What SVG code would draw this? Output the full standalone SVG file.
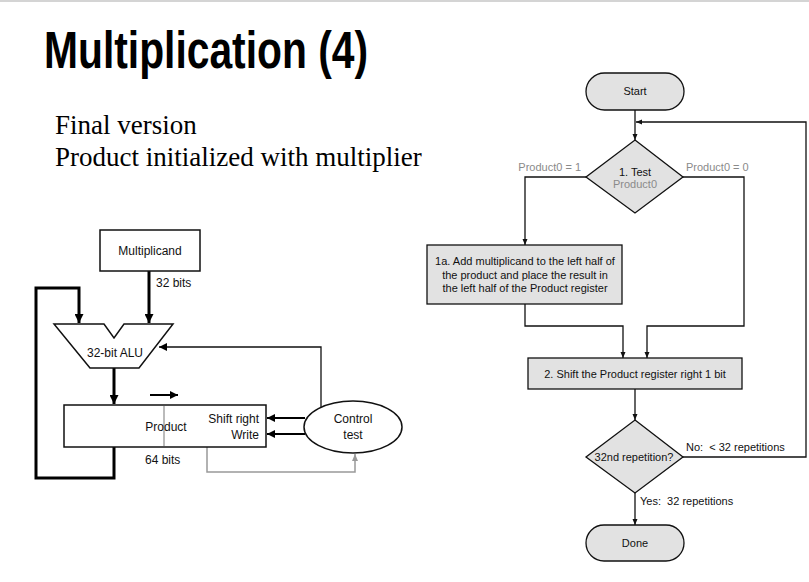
<svg xmlns="http://www.w3.org/2000/svg" width="809" height="582" viewBox="0 0 809 582">
<defs>
<style>
.t{font-family:"Liberation Sans",Arial,sans-serif;fill:#111}
.s12{font-size:12px}
.s11{font-size:11px}
.g{fill:#8a8a8a}
.m{text-anchor:middle}
.e{text-anchor:end}
.ln{fill:none;stroke:#111;stroke-width:1.3}
.thick{fill:none;stroke:#000;stroke-width:3}
.med{fill:none;stroke:#000;stroke-width:2}
.gl{fill:none;stroke:#999;stroke-width:1.5}
.box{fill:#fff;stroke:#111;stroke-width:1.5}
.fbox{fill:#e2e2e2;stroke:#111;stroke-width:1.3}
</style>
<marker id="aBig" markerUnits="userSpaceOnUse" markerWidth="9" markerHeight="9" refX="9" refY="4.5" orient="auto"><path d="M0,0 L9,4.5 L0,9 z" fill="#000"/></marker>
<marker id="aMed" markerUnits="userSpaceOnUse" markerWidth="8" markerHeight="8" refX="8" refY="4" orient="auto"><path d="M0,0 L8,4 L0,8 z" fill="#000"/></marker>
<marker id="aSm" markerUnits="userSpaceOnUse" markerWidth="6" markerHeight="6" refX="6" refY="3" orient="auto"><path d="M0,0.5 L6,3 L0,5.5 z" fill="#111"/></marker>
<marker id="aGray" markerUnits="userSpaceOnUse" markerWidth="7" markerHeight="7" refX="7" refY="3.5" orient="auto"><path d="M0,0.5 L7,3.5 L0,6.5 z" fill="#999"/></marker>
</defs>
<rect x="0" y="0" width="809" height="582" fill="#fff"/>
<line x1="0" y1="1" x2="809" y2="1" stroke="#d4d4d4" stroke-width="2"/>

<g id="title">
<text x="44" y="68" font-family="'Liberation Sans',Arial,sans-serif" font-weight="bold" font-size="51" textLength="324" lengthAdjust="spacingAndGlyphs" fill="#000">Multiplication (4)</text>
<text x="55" y="134" font-family="'Liberation Serif','Times New Roman',serif" font-size="27" fill="#000">Final version</text>
<text x="55" y="166" font-family="'Liberation Serif','Times New Roman',serif" font-size="27" fill="#000">Product initialized with multiplier</text>
</g>

<g id="connectors">
<line class="thick" x1="149" y1="271" x2="149" y2="323" marker-end="url(#aBig)"/>
<polyline class="thick" points="114,447 114,478 36,478 36,288 79,288 79,323" marker-end="url(#aBig)"/>
<line class="thick" x1="114" y1="368" x2="114" y2="404" marker-end="url(#aBig)"/>
<line class="med" x1="150" y1="395" x2="178" y2="395" marker-end="url(#aMed)"/>
<line class="med" x1="305" y1="418" x2="267" y2="418" marker-end="url(#aMed)"/>
<line class="med" x1="305" y1="434" x2="267" y2="434" marker-end="url(#aMed)"/>
<polyline class="ln" points="321,407 321,347 159,347" stroke-width="1.5" marker-end="url(#aMed)"/>
<polyline class="gl" points="207,447 207,472 355,472 355,454" marker-end="url(#aGray)"/>
<line class="ln" x1="635" y1="110" x2="635" y2="140" marker-end="url(#aSm)"/>
<polyline class="ln" points="683,457 806,457 806,122 636,122" marker-end="url(#aSm)"/>
<polyline class="ln" points="586,177 525,177 525,245" marker-end="url(#aSm)"/>
<polyline class="ln" points="683,177 744,177 744,326 647,326 647,358" marker-end="url(#aSm)"/>
<polyline class="ln" points="525,304 525,326 623,326 623,358" marker-end="url(#aSm)"/>
<line class="ln" x1="635" y1="389" x2="635" y2="420" marker-end="url(#aSm)"/>
<line class="ln" x1="635" y1="493" x2="635" y2="525" marker-end="url(#aSm)"/>
</g>

<g id="multiplicand">
<rect class="box" x="100" y="230" width="100" height="41"/>
<text class="t s12 m" x="150" y="255">Multiplicand</text>
</g>
<text class="t s12" x="156" y="287">32 bits</text>

<g id="alu">
<polygon class="box" points="54,324 104,324 114,338 124,324 173,324 139,368 90,368"/>
<text class="t s12 m" x="115" y="357">32-bit ALU</text>
</g>

<g id="product">
<rect class="box" x="64" y="405" width="202" height="42"/>
<line x1="164" y1="406" x2="164" y2="446" stroke="#bbb" stroke-width="2"/>
<text class="t s12 m" x="166" y="431">Product</text>
<text class="t s12 e" x="259" y="423">Shift right</text>
<text class="t s12 e" x="259" y="439">Write</text>
</g>
<text class="t s12" x="145" y="464">64 bits</text>

<g id="control">
<ellipse cx="353" cy="427" rx="49" ry="26" fill="#fff" stroke="#111" stroke-width="1.5"/>
<text class="t s12 m" x="353" y="423">Control</text>
<text class="t s12 m" x="353" y="439">test</text>
</g>

<g id="start">
<rect class="fbox" x="586" y="73" width="98" height="37" rx="18.5"/>
<text class="t s11 m" x="635" y="95">Start</text>
</g>

<g id="test1">
<polygon class="fbox" points="635,140 683,177 635,213 586,177"/>
<text class="t s11 m" x="635" y="176">1. Test</text>
<text class="t s11 m g" x="635" y="188">Product0</text>
</g>
<text class="t s11 e g" x="581" y="171">Product0 = 1</text>
<text class="t s11 g" x="686" y="171">Product0 = 0</text>

<g id="step1a">
<rect class="fbox" x="427" y="245" width="195" height="59"/>
<text class="t s11 m" x="525" y="265">1a. Add multiplicand to the left half of</text>
<text class="t s11 m" x="525" y="278.5">the product and place the result in</text>
<text class="t s11 m" x="525" y="292">the left half of the Product register</text>
</g>

<g id="step2">
<rect class="fbox" x="528" y="358" width="214" height="31"/>
<text class="t s11 m" x="635" y="378">2. Shift the Product register right 1 bit</text>
</g>

<g id="test2">
<polygon class="fbox" points="635,420 683,457 635,493 586,457"/>
<text class="t s11 m" x="634" y="461">32nd repetition?</text>
</g>
<text class="t s11" x="686" y="451">No:&#160; &lt; 32 repetitions</text>
<text class="t s11" x="640" y="505">Yes:&#160; 32 repetitions</text>

<g id="done">
<rect class="fbox" x="586" y="525" width="98" height="36" rx="18"/>
<text class="t s11 m" x="635" y="547">Done</text>
</g>
</svg>
